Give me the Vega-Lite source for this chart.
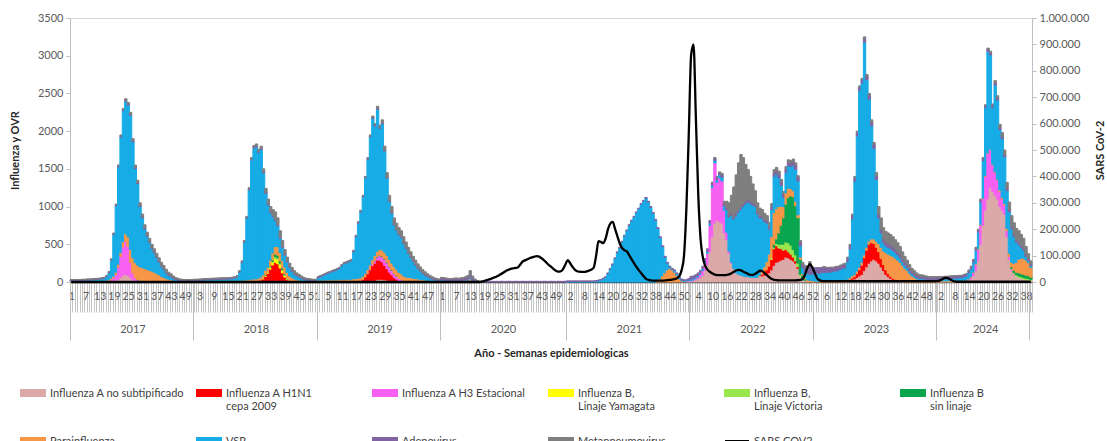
{
"$schema": "https://vega.github.io/schema/vega-lite/v6.json",
"width": 962, "height": 264,
"autosize": {"type": "none"},
"padding": {"left": 70, "top": 18, "right": 75, "bottom": 159},
"background": "white",
"config": {
 "font": "Lato",
 "view": {"stroke": "#d9d9d9"},
 "locale": {"number": {"decimal": ",", "thousands": ".", "grouping": [3], "currency": ["$", ""]}},
 "axis": {"grid": false, "labelFont": "Lato", "labelColor": "#595959", "labelFontSize": 11, "titleFont": "Lato", "titleFontSize": 11, "titleFontWeight": "bold", "titleColor": "#262626"}
},
"datasets": {
 "series": [
  {"key":"a","name":"Influenza A no subtipificado"},
  {"key":"b","name":"Influenza A H1N1 cepa 2009"},
  {"key":"c","name":"Influenza A H3 Estacional"},
  {"key":"d","name":"Influenza B, Linaje Yamagata"},
  {"key":"e","name":"Influenza B, Linaje Victoria"},
  {"key":"f","name":"Influenza B sin linaje"},
  {"key":"g","name":"Parainfluenza"},
  {"key":"h","name":"VSR"},
  {"key":"j","name":"Adenovirus"},
  {"key":"k","name":"Metapneumovirus"}
 ],
 "weeks": [
{"i":0,"a":2,"g":8,"h":8,"j":10,"k":4,"s":0},
{"i":1,"a":2,"g":9,"h":7,"j":11,"k":4,"s":0},
{"i":2,"a":2,"g":8,"h":9,"j":10,"k":5,"s":0},
{"i":3,"a":2,"g":7,"h":8,"j":12,"k":4,"s":0},
{"i":4,"a":3,"g":8,"h":10,"j":10,"k":4,"s":0},
{"i":5,"a":2,"g":9,"h":9,"j":11,"k":5,"s":0},
{"i":6,"a":2,"g":8,"h":11,"j":12,"k":4,"s":0},
{"i":7,"a":3,"g":10,"h":12,"j":11,"k":5,"s":0},
{"i":8,"a":2,"g":9,"h":12,"j":12,"k":5,"s":0},
{"i":9,"a":3,"g":10,"h":14,"j":12,"k":5,"s":0},
{"i":10,"a":3,"g":10,"h":15,"j":12,"k":5,"s":0},
{"i":11,"a":3,"g":11,"h":17,"j":12,"k":6,"s":0},
{"i":12,"a":3,"g":11,"h":20,"j":12,"k":6,"s":0},
{"i":13,"a":3,"g":12,"h":24,"j":12,"k":6,"s":0},
{"i":14,"a":3,"g":12,"h":30,"j":12,"k":6,"s":0},
{"i":15,"a":3,"c":5,"g":12,"h":50,"j":12,"k":5,"s":0},
{"i":16,"a":5,"c":10,"g":15,"h":90,"j":12,"k":6,"s":0},
{"i":17,"a":8,"c":20,"g":20,"h":240,"j":12,"k":8,"s":0},
{"i":18,"a":12,"c":40,"g":25,"h":550,"j":13,"k":10,"s":0},
{"i":19,"a":20,"c":80,"g":30,"h":880,"j":14,"k":10,"s":0},
{"i":20,"a":35,"c":160,"g":40,"h":1290,"j":15,"k":12,"s":0},
{"i":21,"a":60,"c":280,"g":50,"h":1530,"j":15,"k":15,"s":0},
{"i":22,"a":85,"c":380,"g":70,"h":1735,"j":15,"k":15,"s":0},
{"i":23,"a":100,"c":440,"g":100,"h":1755,"j":15,"k":20,"s":0},
{"i":24,"a":90,"c":380,"g":130,"h":1745,"j":15,"k":20,"s":0},
{"i":25,"a":60,"c":200,"g":170,"h":1780,"j":15,"k":25,"s":0},
{"i":26,"a":30,"c":90,"g":200,"h":1540,"j":15,"k":25,"s":0},
{"i":27,"a":15,"c":40,"g":200,"h":1250,"j":15,"k":30,"s":0},
{"i":28,"a":10,"c":20,"f":5,"g":190,"h":1080,"j":15,"k":30,"s":0},
{"i":29,"a":5,"c":10,"f":5,"g":180,"h":800,"j":15,"k":35,"s":0},
{"i":30,"a":5,"c":5,"f":5,"g":175,"h":660,"j":15,"k":35,"s":0},
{"i":31,"a":3,"f":5,"g":170,"h":525,"j":15,"k":40,"s":0},
{"i":32,"a":3,"g":165,"h":437,"j":15,"k":40,"s":0},
{"i":33,"g":155,"h":370,"j":15,"k":40,"s":0},
{"i":34,"g":145,"h":300,"j":15,"k":40,"s":0},
{"i":35,"g":130,"h":255,"j":15,"k":40,"s":0},
{"i":36,"g":115,"h":210,"j":15,"k":40,"s":0},
{"i":37,"g":95,"h":170,"j":15,"k":40,"s":0},
{"i":38,"g":75,"h":130,"j":15,"k":40,"s":0},
{"i":39,"g":60,"h":105,"j":15,"k":40,"s":0},
{"i":40,"g":45,"h":75,"j":15,"k":35,"s":0},
{"i":41,"g":35,"h":50,"j":15,"k":30,"s":0},
{"i":42,"g":30,"h":40,"j":15,"k":25,"s":0},
{"i":43,"g":20,"h":25,"j":15,"k":20,"s":0},
{"i":44,"g":15,"h":18,"j":12,"k":15,"s":0},
{"i":45,"g":12,"h":15,"j":12,"k":10,"s":0},
{"i":46,"g":10,"h":10,"j":12,"k":8,"s":0},
{"i":47,"g":8,"h":9,"j":11,"k":6,"s":0},
{"i":48,"g":8,"h":8,"j":10,"k":5,"s":0},
{"i":49,"g":8,"h":8,"j":10,"k":5,"s":0},
{"i":50,"g":7,"h":8,"j":11,"k":5,"s":0},
{"i":51,"g":8,"h":9,"j":10,"k":5,"s":0},
{"i":52,"a":2,"g":8,"h":10,"j":12,"k":5,"s":0},
{"i":53,"a":2,"g":8,"h":11,"j":12,"k":5,"s":0},
{"i":54,"a":2,"g":9,"h":11,"j":12,"k":5,"s":0},
{"i":55,"a":2,"g":9,"h":12,"j":13,"k":5,"s":0},
{"i":56,"a":2,"g":10,"h":13,"j":13,"k":6,"s":0},
{"i":57,"a":2,"g":10,"h":14,"j":13,"k":5,"s":0},
{"i":58,"a":2,"g":10,"h":15,"j":14,"k":6,"s":0},
{"i":59,"a":2,"g":11,"h":16,"j":14,"k":6,"s":0},
{"i":60,"a":2,"g":12,"h":17,"j":14,"k":6,"s":0},
{"i":61,"a":2,"g":12,"h":18,"j":14,"k":6,"s":0},
{"i":62,"a":2,"g":12,"h":19,"j":15,"k":6,"s":0},
{"i":63,"a":2,"g":13,"h":19,"j":15,"k":6,"s":0},
{"i":64,"a":2,"g":13,"h":20,"j":15,"k":6,"s":0},
{"i":65,"a":2,"g":13,"h":21,"j":15,"k":6,"s":0},
{"i":66,"a":2,"g":13,"h":22,"j":15,"k":6,"s":0},
{"i":67,"a":2,"g":14,"h":23,"j":15,"k":6,"s":0},
{"i":68,"a":2,"g":14,"h":28,"j":15,"k":6,"s":0},
{"i":69,"a":2,"g":15,"h":32,"j":15,"k":6,"s":0},
{"i":70,"a":2,"g":15,"h":47,"j":15,"k":6,"s":0},
{"i":71,"a":2,"g":16,"h":110,"j":15,"k":7,"s":0},
{"i":72,"a":2,"g":18,"h":237,"j":15,"k":8,"s":0},
{"i":73,"a":2,"g":20,"h":503,"j":15,"k":10,"s":0},
{"i":74,"a":4,"g":22,"h":817,"j":15,"k":12,"s":0},
{"i":75,"a":5,"g":25,"h":1190,"j":15,"k":15,"s":0},
{"i":76,"a":7,"g":28,"h":1580,"j":15,"k":20,"s":0},
{"i":77,"a":8,"g":30,"h":1735,"j":15,"k":22,"s":0},
{"i":78,"a":5,"b":5,"g":30,"h":1750,"j":15,"k":25,"s":0},
{"i":79,"a":5,"b":7,"g":35,"h":1670,"j":15,"k":28,"s":0},
{"i":80,"a":5,"b":20,"g":40,"h":1690,"j":15,"k":30,"s":0},
{"i":81,"a":5,"b":35,"d":5,"g":50,"h":1350,"j":15,"k":40,"s":0},
{"i":82,"a":5,"b":70,"d":10,"e":5,"f":5,"g":60,"h":1020,"j":15,"k":50,"s":0},
{"i":83,"a":5,"b":110,"d":10,"g":70,"h":825,"j":15,"k":65,"s":0},
{"i":84,"a":10,"b":160,"d":20,"e":10,"f":10,"g":80,"h":630,"j":15,"k":65,"s":0},
{"i":85,"a":15,"b":210,"d":35,"e":15,"f":20,"g":90,"h":480,"j":15,"k":80,"s":0},
{"i":86,"a":20,"b":240,"d":50,"e":25,"f":35,"g":100,"h":345,"j":15,"k":100,"s":0},
{"i":87,"a":20,"b":220,"d":55,"e":25,"f":35,"g":110,"h":280,"j":15,"k":90,"s":0},
{"i":88,"a":15,"b":170,"d":45,"e":20,"f":30,"g":110,"h":190,"j":15,"k":85,"s":0},
{"i":89,"a":10,"b":110,"d":30,"e":15,"f":20,"g":100,"h":170,"j":15,"k":80,"s":0},
{"i":90,"a":5,"b":60,"d":20,"e":10,"f":12,"g":90,"h":158,"j":15,"k":60,"s":0},
{"i":91,"b":30,"d":10,"f":8,"g":80,"h":137,"j":15,"k":50,"s":0},
{"i":92,"b":15,"g":65,"h":115,"j":15,"k":40,"s":0},
{"i":93,"b":8,"g":50,"h":85,"j":15,"k":35,"s":0},
{"i":94,"g":40,"h":65,"j":15,"k":30,"s":0},
{"i":95,"g":30,"h":50,"j":15,"k":25,"s":0},
{"i":96,"g":25,"h":40,"j":15,"k":20,"s":0},
{"i":97,"g":20,"h":30,"j":15,"k":15,"s":0},
{"i":98,"g":15,"h":20,"j":15,"k":10,"s":0},
{"i":99,"g":12,"h":15,"j":15,"k":8,"s":0},
{"i":100,"g":11,"h":12,"j":15,"k":7,"s":0},
{"i":101,"g":10,"h":10,"j":14,"k":6,"s":0},
{"i":102,"g":9,"h":9,"j":13,"k":5,"s":0},
{"i":103,"g":9,"h":9,"j":13,"k":5,"s":0},
{"i":104,"a":2,"g":20,"h":28,"j":15,"k":5,"s":0},
{"i":105,"a":2,"g":20,"h":43,"j":15,"k":5,"s":0},
{"i":106,"a":2,"g":22,"h":56,"j":15,"k":5,"s":0},
{"i":107,"a":2,"g":22,"h":71,"j":15,"k":5,"s":0},
{"i":108,"a":2,"g":24,"h":84,"j":15,"k":5,"s":0},
{"i":109,"a":2,"g":24,"h":94,"j":15,"k":5,"s":0},
{"i":110,"a":2,"g":25,"h":108,"j":15,"k":5,"s":0},
{"i":111,"a":2,"g":25,"h":118,"j":15,"k":5,"s":0},
{"i":112,"a":2,"g":26,"h":132,"j":15,"k":5,"s":0},
{"i":113,"a":3,"g":27,"h":145,"j":15,"k":5,"s":0},
{"i":114,"a":3,"g":28,"h":178,"j":15,"k":6,"s":0},
{"i":115,"a":3,"g":28,"h":208,"j":15,"k":6,"s":0},
{"i":116,"a":3,"g":29,"h":217,"j":15,"k":6,"s":0},
{"i":117,"a":3,"g":30,"h":231,"j":15,"k":6,"s":0},
{"i":118,"a":3,"b":3,"g":30,"h":243,"j":15,"k":6,"s":0},
{"i":119,"a":3,"b":5,"g":32,"h":358,"j":15,"k":7,"s":0},
{"i":120,"a":4,"b":5,"g":34,"h":555,"j":15,"k":7,"s":0},
{"i":121,"a":5,"b":7,"g":36,"h":730,"j":15,"k":7,"s":0},
{"i":122,"a":5,"b":10,"g":40,"h":872,"j":15,"k":8,"s":0},
{"i":123,"a":5,"b":30,"g":42,"h":1050,"j":15,"k":8,"s":0},
{"i":124,"a":6,"b":60,"g":45,"h":1265,"j":15,"k":9,"s":0},
{"i":125,"a":8,"b":100,"c":5,"g":50,"h":1462,"j":15,"k":10,"s":0},
{"i":126,"a":10,"b":150,"c":10,"g":55,"h":1700,"j":15,"k":10,"s":0},
{"i":127,"a":15,"b":200,"c":20,"g":60,"h":1875,"j":15,"k":15,"s":0},
{"i":128,"a":20,"b":230,"c":30,"f":5,"g":65,"h":1715,"j":15,"k":20,"s":0},
{"i":129,"a":30,"b":260,"c":40,"f":5,"g":70,"h":1885,"j":15,"k":25,"s":0},
{"i":130,"a":35,"b":250,"c":60,"f":8,"g":75,"h":1607,"j":15,"k":30,"s":0},
{"i":131,"a":35,"b":230,"c":70,"f":8,"g":80,"h":1672,"j":15,"k":40,"s":0},
{"i":132,"a":30,"b":190,"c":80,"f":8,"g":85,"h":1342,"j":15,"k":50,"s":0},
{"i":133,"a":25,"b":150,"c":80,"f":8,"g":90,"h":1022,"j":15,"k":60,"s":0},
{"i":134,"a":20,"b":110,"c":70,"f":8,"g":90,"h":767,"j":15,"k":70,"s":0},
{"i":135,"a":15,"b":80,"c":60,"f":6,"g":90,"h":659,"j":15,"k":75,"s":0},
{"i":136,"a":10,"b":50,"c":50,"f":5,"g":88,"h":552,"j":15,"k":80,"s":0},
{"i":137,"a":8,"b":30,"c":40,"f":5,"g":85,"h":517,"j":15,"k":80,"s":0},
{"i":138,"a":5,"b":15,"c":30,"g":80,"h":495,"j":15,"k":80,"s":0},
{"i":139,"a":3,"b":10,"c":20,"g":75,"h":482,"j":15,"k":75,"s":0},
{"i":140,"c":10,"g":70,"h":430,"j":15,"k":75,"s":0},
{"i":141,"g":65,"h":380,"j":15,"k":70,"s":0},
{"i":142,"g":60,"h":320,"j":15,"k":65,"s":0},
{"i":143,"g":55,"h":270,"j":15,"k":60,"s":0},
{"i":144,"g":50,"h":220,"j":15,"k":55,"s":0},
{"i":145,"g":45,"h":180,"j":15,"k":50,"s":0},
{"i":146,"g":40,"h":140,"j":15,"k":45,"s":0},
{"i":147,"g":35,"h":110,"j":15,"k":40,"s":0},
{"i":148,"g":30,"h":85,"j":15,"k":35,"s":0},
{"i":149,"g":25,"h":65,"j":15,"k":30,"s":0},
{"i":150,"g":22,"h":48,"j":15,"k":25,"s":0},
{"i":151,"g":20,"h":35,"j":15,"k":20,"s":0},
{"i":152,"g":16,"h":24,"j":15,"k":15,"s":0},
{"i":153,"g":13,"h":17,"j":15,"k":10,"s":0},
{"i":154,"g":11,"h":12,"j":14,"k":8,"s":0},
{"i":155,"g":10,"h":10,"j":13,"k":7,"s":0},
{"i":156,"g":12,"h":15,"j":25,"k":10,"s":0},
{"i":157,"g":12,"h":12,"j":25,"k":8,"s":0},
{"i":158,"g":10,"h":12,"j":22,"k":8,"s":0},
{"i":159,"g":10,"h":10,"j":20,"k":7,"s":0},
{"i":160,"g":10,"h":10,"j":20,"k":6,"s":0},
{"i":161,"g":10,"h":10,"j":22,"k":8,"s":0},
{"i":162,"g":12,"h":10,"j":23,"k":10,"s":0},
{"i":163,"g":10,"h":8,"j":22,"k":10,"s":0},
{"i":164,"g":10,"h":10,"j":25,"k":10,"s":0},
{"i":165,"g":12,"h":10,"j":25,"k":13,"s":0},
{"i":166,"g":15,"h":10,"j":28,"k":17,"s":0},
{"i":167,"f":5,"g":15,"h":10,"j":30,"k":25,"s":0},
{"i":168,"f":20,"g":20,"h":15,"j":35,"k":60,"s":0},
{"i":169,"g":15,"h":10,"j":30,"k":25,"s":0},
{"i":170,"g":8,"h":5,"j":20,"k":7,"s":0},
{"i":171,"g":3,"h":2,"j":12,"k":3,"s":0},
{"i":172,"g":2,"j":8,"s":0},
{"i":173,"j":8,"s":2000},
{"i":174,"j":7,"s":4000},
{"i":175,"j":9,"s":7000},
{"i":176,"j":8,"s":10000},
{"i":177,"j":10,"s":13000},
{"i":178,"j":8,"s":17000},
{"i":179,"j":9,"s":20000},
{"i":180,"j":8,"s":25000},
{"i":181,"j":10,"s":30000},
{"i":182,"j":9,"s":36000},
{"i":183,"j":8,"s":42000},
{"i":184,"j":10,"s":46000},
{"i":185,"j":9,"s":50000},
{"i":186,"j":8,"s":52000},
{"i":187,"j":10,"s":53000},
{"i":188,"j":9,"s":55000},
{"i":189,"j":8,"s":65000},
{"i":190,"j":10,"s":77000},
{"i":191,"j":9,"s":82000},
{"i":192,"j":8,"s":86000},
{"i":193,"j":10,"s":90000},
{"i":194,"j":9,"s":93000},
{"i":195,"j":8,"s":96000},
{"i":196,"j":10,"s":98000},
{"i":197,"j":9,"s":96000},
{"i":198,"j":8,"s":90000},
{"i":199,"j":10,"s":83000},
{"i":200,"j":9,"s":74000},
{"i":201,"j":8,"s":65000},
{"i":202,"j":10,"s":58000},
{"i":203,"j":9,"s":50000},
{"i":204,"j":8,"s":43000},
{"i":205,"j":10,"s":39000},
{"i":206,"j":9,"s":40000},
{"i":207,"j":8,"s":48000},
{"i":208,"j":10,"s":65000},
{"i":209,"h":5,"j":10,"s":83000},
{"i":210,"h":5,"j":10,"s":72000},
{"i":211,"h":5,"j":10,"s":58000},
{"i":212,"h":5,"j":10,"s":47000},
{"i":213,"h":5,"j":10,"s":41000},
{"i":214,"h":5,"j":10,"s":39000},
{"i":215,"h":5,"j":10,"s":38000},
{"i":216,"h":5,"j":10,"s":38000},
{"i":217,"h":5,"j":10,"s":40000},
{"i":218,"h":5,"j":10,"s":43000},
{"i":219,"h":5,"j":10,"s":47000},
{"i":220,"h":5,"j":10,"s":55000},
{"i":221,"h":10,"j":10,"s":100000},
{"i":222,"h":15,"j":10,"s":155000},
{"i":223,"h":25,"j":10,"s":152000},
{"i":224,"h":40,"j":10,"s":147000},
{"i":225,"h":60,"j":10,"s":165000},
{"i":226,"h":110,"j":10,"s":200000},
{"i":227,"h":170,"j":10,"s":222000},
{"i":228,"h":230,"j":10,"s":228000},
{"i":229,"h":310,"j":10,"s":200000},
{"i":230,"h":390,"j":10,"s":172000},
{"i":231,"h":450,"j":10,"s":145000},
{"i":232,"h":530,"j":10,"s":128000},
{"i":233,"h":610,"j":10,"s":120000},
{"i":234,"h":680,"j":10,"s":115000},
{"i":235,"h":750,"j":10,"s":100000},
{"i":236,"h":810,"j":10,"s":85000},
{"i":237,"h":860,"j":10,"s":71000},
{"i":238,"h":920,"j":10,"s":57000},
{"i":239,"h":970,"j":10,"s":44000},
{"i":240,"h":1030,"j":10,"s":33000},
{"i":241,"h":1070,"j":10,"s":22000},
{"i":242,"h":1110,"j":10,"s":12000},
{"i":243,"h":1060,"j":10,"s":8000},
{"i":244,"h":990,"j":10,"s":6000},
{"i":245,"h":910,"j":10,"s":5000},
{"i":246,"h":820,"j":10,"s":5000},
{"i":247,"g":20,"h":690,"j":10,"s":5000},
{"i":248,"g":40,"h":550,"j":10,"s":5000},
{"i":249,"g":80,"h":390,"j":10,"s":5000},
{"i":250,"g":120,"h":210,"j":10,"s":6000},
{"i":251,"g":160,"h":90,"j":10,"s":7000},
{"i":252,"g":180,"h":20,"j":10,"s":8000},
{"i":253,"g":160,"h":10,"j":10,"s":9000},
{"i":254,"g":130,"h":20,"j":10,"s":11000},
{"i":255,"g":90,"h":20,"j":10,"s":14000},
{"i":256,"g":40,"h":20,"j":10,"s":22000},
{"i":257,"g":15,"h":10,"j":15,"s":45000},
{"i":258,"g":5,"h":10,"j":15,"s":100000},
{"i":259,"a":5,"h":10,"j":15,"s":280000},
{"i":260,"a":10,"c":5,"h":10,"j":20,"s":560000},
{"i":261,"a":10,"c":5,"h":20,"j":40,"s":860000},
{"i":262,"a":15,"c":10,"h":20,"j":35,"s":900000},
{"i":263,"a":25,"c":15,"h":20,"j":35,"s":620000},
{"i":264,"a":40,"c":25,"h":20,"j":35,"s":330000},
{"i":265,"a":60,"c":40,"h":20,"j":35,"s":160000},
{"i":266,"a":90,"c":60,"h":25,"j":35,"s":90000},
{"i":267,"a":150,"c":100,"h":25,"j":35,"s":60000},
{"i":268,"a":230,"c":150,"h":25,"j":35,"s":45000},
{"i":269,"a":400,"c":350,"h":30,"j":35,"s":38000},
{"i":270,"a":600,"c":650,"h":30,"j":35,"k":10,"s":32000},
{"i":271,"a":780,"c":800,"h":30,"j":30,"k":10,"s":28000},
{"i":272,"a":820,"c":500,"h":40,"j":30,"k":10,"s":26000},
{"i":273,"a":800,"c":580,"h":40,"j":30,"k":10,"s":26000},
{"i":274,"a":780,"c":560,"h":50,"j":30,"k":20,"s":26000},
{"i":275,"a":650,"c":300,"h":60,"j":30,"k":30,"s":26000},
{"i":276,"a":560,"c":100,"h":300,"j":30,"k":80,"s":27000},
{"i":277,"a":380,"c":30,"h":450,"j":30,"k":160,"s":29000},
{"i":278,"a":250,"c":10,"h":620,"j":30,"k":240,"s":33000},
{"i":279,"a":180,"h":650,"j":30,"k":400,"s":39000},
{"i":280,"a":120,"h":750,"j":30,"k":520,"s":44000},
{"i":281,"a":100,"h":820,"j":30,"k":630,"s":46000},
{"i":282,"a":90,"h":870,"j":30,"k":700,"s":44000},
{"i":283,"a":80,"h":920,"j":30,"k":620,"s":39000},
{"i":284,"a":70,"h":960,"j":30,"k":500,"s":35000},
{"i":285,"a":70,"h":990,"j":30,"k":400,"s":30000},
{"i":286,"a":60,"h":980,"j":30,"k":330,"s":27000},
{"i":287,"a":60,"h":960,"j":30,"k":250,"s":27000},
{"i":288,"a":60,"h":940,"j":30,"k":180,"s":31000},
{"i":289,"a":60,"h":840,"j":30,"k":120,"s":37000},
{"i":290,"a":70,"g":20,"h":760,"j":30,"k":100,"s":43000},
{"i":291,"a":80,"b":20,"g":40,"h":700,"j":30,"k":90,"s":41000},
{"i":292,"a":90,"b":40,"g":70,"h":600,"j":30,"k":80,"s":33000},
{"i":293,"a":100,"b":60,"g":110,"h":510,"j":30,"k":70,"s":25000},
{"i":294,"a":120,"b":90,"g":160,"h":330,"j":30,"k":60,"s":17000},
{"i":295,"a":160,"b":140,"d":10,"e":10,"g":280,"h":360,"j":40,"k":40,"s":11000},
{"i":296,"a":220,"b":220,"e":20,"f":40,"g":420,"h":480,"j":50,"k":40,"s":8000},
{"i":297,"a":260,"b":220,"e":30,"f":60,"g":400,"h":460,"j":50,"k":40,"s":7000},
{"i":298,"a":270,"b":180,"e":50,"f":150,"g":350,"h":380,"j":50,"k":40,"s":6000},
{"i":299,"a":290,"b":150,"e":60,"f":250,"g":250,"h":280,"j":50,"k":30,"s":6000},
{"i":300,"a":300,"b":120,"e":80,"f":350,"g":150,"h":120,"j":50,"k":30,"s":6000},
{"i":301,"a":330,"b":100,"e":100,"f":500,"g":150,"h":270,"j":50,"k":30,"s":6000},
{"i":302,"a":320,"b":80,"e":120,"f":600,"g":120,"h":300,"j":50,"k":30,"s":6000},
{"i":303,"a":300,"b":70,"e":120,"f":650,"g":100,"h":290,"j":50,"k":30,"s":6000},
{"i":304,"a":280,"b":50,"e":100,"f":700,"g":80,"h":330,"j":60,"k":30,"s":6000},
{"i":305,"a":250,"b":30,"e":80,"f":650,"g":60,"h":420,"j":60,"k":30,"s":6000},
{"i":306,"a":180,"b":20,"e":50,"f":600,"g":40,"h":450,"j":50,"k":20,"s":7000},
{"i":307,"a":80,"e":20,"f":200,"g":30,"h":150,"j":50,"k":20,"s":8000},
{"i":308,"a":30,"f":60,"g":20,"h":80,"j":50,"k":20,"s":12000},
{"i":309,"a":20,"f":20,"g":20,"h":80,"j":60,"k":20,"s":30000},
{"i":310,"a":10,"g":20,"h":80,"j":70,"k":20,"s":55000},
{"i":311,"g":20,"h":80,"j":150,"k":20,"s":68000},
{"i":312,"g":20,"h":80,"j":80,"k":20,"s":55000},
{"i":313,"g":10,"h":110,"j":70,"s":35000},
{"i":314,"g":10,"h":110,"j":70,"s":15000},
{"i":315,"g":10,"h":100,"j":80,"s":7000},
{"i":316,"g":10,"h":110,"j":70,"k":5,"s":4000},
{"i":317,"g":10,"h":120,"j":70,"k":5,"s":3000},
{"i":318,"g":10,"h":115,"j":65,"k":5,"s":3000},
{"i":319,"g":10,"h":120,"j":60,"k":5,"s":3000},
{"i":320,"g":12,"h":120,"j":60,"k":5,"s":3000},
{"i":321,"g":12,"h":125,"j":55,"k":5,"s":3000},
{"i":322,"g":15,"h":130,"j":55,"k":8,"s":3000},
{"i":323,"g":15,"h":135,"j":50,"k":10,"s":3000},
{"i":324,"g":15,"h":150,"j":50,"k":10,"s":3000},
{"i":325,"g":18,"h":160,"j":50,"k":12,"s":3000},
{"i":326,"a":5,"g":20,"h":160,"j":50,"k":15,"s":3000},
{"i":327,"a":10,"b":5,"g":20,"h":230,"j":50,"k":15,"s":3000},
{"i":328,"a":20,"b":10,"g":25,"h":380,"j":50,"k":15,"s":3000},
{"i":329,"a":30,"b":20,"g":30,"h":755,"j":50,"k":15,"s":3000},
{"i":330,"a":40,"b":30,"g":30,"h":1235,"j":50,"k":15,"s":3000},
{"i":331,"a":60,"b":50,"g":35,"h":1790,"j":50,"k":15,"s":3000},
{"i":332,"a":80,"b":80,"g":35,"h":2340,"j":50,"k":15,"s":3000},
{"i":333,"a":100,"b":120,"g":40,"h":2375,"j":50,"k":15,"s":3000},
{"i":334,"a":150,"b":170,"g":40,"h":2820,"j":50,"k":20,"s":3000},
{"i":335,"a":200,"b":220,"g":40,"h":2220,"j":50,"k":20,"s":3000},
{"i":336,"a":250,"b":250,"g":45,"h":1880,"j":50,"k":25,"s":3000},
{"i":337,"a":280,"b":240,"g":50,"h":1500,"j":50,"k":30,"s":3000},
{"i":338,"a":300,"b":210,"g":60,"h":1200,"j":50,"k":30,"s":3000},
{"i":339,"a":280,"b":180,"g":80,"h":820,"j":50,"k":40,"s":3000},
{"i":340,"a":250,"b":150,"g":110,"h":340,"j":50,"k":100,"s":3000},
{"i":341,"a":200,"b":110,"g":150,"h":190,"j":50,"k":150,"s":3000},
{"i":342,"a":150,"b":80,"g":180,"h":110,"j":50,"k":150,"s":3000},
{"i":343,"a":100,"b":60,"g":230,"h":90,"j":50,"k":140,"s":3000},
{"i":344,"a":70,"b":40,"g":260,"h":90,"j":50,"k":140,"s":3000},
{"i":345,"a":50,"b":25,"g":280,"h":90,"j":50,"k":135,"s":3000},
{"i":346,"a":35,"b":15,"g":290,"h":80,"j":50,"k":130,"s":3000},
{"i":347,"a":25,"b":10,"g":280,"h":80,"j":45,"k":120,"s":3000},
{"i":348,"a":15,"b":5,"g":270,"h":70,"j":45,"k":115,"s":3000},
{"i":349,"a":10,"g":250,"h":60,"j":45,"k":105,"s":3000},
{"i":350,"a":5,"g":215,"h":50,"j":40,"k":90,"s":3000},
{"i":351,"g":180,"h":45,"j":40,"k":75,"s":3000},
{"i":352,"g":150,"h":40,"j":40,"k":60,"s":3000},
{"i":353,"g":110,"h":35,"j":40,"k":45,"s":3000},
{"i":354,"g":80,"h":30,"j":35,"k":35,"s":3000},
{"i":355,"g":60,"h":25,"j":35,"k":30,"s":3000},
{"i":356,"g":40,"h":20,"j":35,"k":25,"s":3000},
{"i":357,"g":30,"h":20,"j":30,"k":20,"s":3000},
{"i":358,"g":25,"h":20,"j":30,"k":20,"s":3000},
{"i":359,"g":20,"h":20,"j":30,"k":20,"s":3000},
{"i":360,"g":15,"h":20,"j":30,"k":15,"s":3000},
{"i":361,"g":12,"h":20,"j":30,"k":10,"s":3000},
{"i":362,"g":12,"h":20,"j":30,"k":10,"s":3000},
{"i":363,"g":12,"h":20,"j":30,"k":10,"s":3000},
{"i":364,"g":12,"h":20,"j":30,"k":10,"s":3000},
{"i":365,"a":5,"g":10,"h":20,"j":30,"k":5,"s":4000},
{"i":366,"a":5,"g":10,"h":22,"j":30,"k":5,"s":7000},
{"i":367,"a":5,"g":10,"h":24,"j":30,"k":5,"s":12000},
{"i":368,"a":5,"g":10,"h":26,"j":30,"k":5,"s":16000},
{"i":369,"a":5,"g":10,"h":28,"j":30,"k":5,"s":15000},
{"i":370,"a":5,"g":10,"h":30,"j":30,"k":5,"s":10000},
{"i":371,"a":5,"g":10,"h":32,"j":30,"k":5,"s":5000},
{"i":372,"a":5,"g":10,"h":34,"j":30,"k":5,"s":2000},
{"i":373,"a":5,"g":10,"h":36,"j":30,"k":5,"s":1000},
{"i":374,"a":5,"g":10,"h":38,"j":30,"k":5,"s":1000},
{"i":375,"a":5,"g":10,"h":40,"j":30,"k":5,"s":1000},
{"i":376,"a":8,"c":3,"g":10,"h":45,"j":30,"k":5,"s":1000},
{"i":377,"a":10,"c":5,"g":10,"h":50,"j":30,"k":5,"s":1000},
{"i":378,"a":20,"c":10,"g":10,"h":80,"j":30,"k":10,"s":1000},
{"i":379,"a":40,"c":20,"g":10,"h":100,"j":30,"k":10,"s":1000},
{"i":380,"a":80,"c":40,"g":10,"h":130,"j":30,"k":10,"s":1000},
{"i":381,"a":150,"c":80,"g":10,"h":180,"j":30,"k":10,"s":1000},
{"i":382,"a":280,"c":150,"g":10,"h":220,"j":30,"k":10,"s":1000},
{"i":383,"a":500,"c":250,"g":10,"h":300,"j":30,"k":10,"s":1000},
{"i":384,"a":750,"c":350,"g":10,"h":500,"j":30,"k":10,"s":1000},
{"i":385,"a":950,"c":450,"g":10,"h":900,"j":30,"k":10,"s":1000},
{"i":386,"a":1100,"c":600,"g":10,"h":1350,"j":30,"k":10,"s":1000},
{"i":387,"a":1250,"c":500,"g":10,"h":1250,"j":30,"k":20,"s":1000},
{"i":388,"a":1200,"c":350,"g":10,"h":750,"j":30,"k":20,"s":1000},
{"i":389,"a":1150,"c":300,"g":10,"h":1150,"j":30,"k":30,"s":1000},
{"i":390,"a":1100,"c":250,"g":10,"h":1050,"j":30,"k":30,"s":1000},
{"i":391,"a":1000,"c":200,"g":20,"h":800,"j":30,"k":40,"s":1000},
{"i":392,"a":950,"c":150,"g":20,"h":780,"j":30,"k":50,"s":1000},
{"i":393,"a":900,"c":120,"g":20,"h":620,"j":30,"k":60,"s":1000},
{"i":394,"a":600,"c":80,"g":30,"h":500,"j":30,"k":80,"s":1000},
{"i":395,"a":300,"c":40,"g":40,"h":550,"j":30,"k":100,"s":1000},
{"i":396,"a":150,"c":20,"e":10,"f":20,"g":60,"h":450,"j":30,"k":140,"s":1000},
{"i":397,"a":100,"c":10,"e":15,"f":30,"g":90,"h":360,"j":30,"k":150,"s":1000},
{"i":398,"a":80,"e":15,"f":35,"g":130,"h":270,"j":30,"k":150,"s":1000},
{"i":399,"a":60,"e":20,"f":40,"g":180,"h":200,"j":30,"k":150,"s":1000},
{"i":400,"a":50,"e":20,"f":40,"g":200,"h":150,"j":30,"k":140,"s":1000},
{"i":401,"a":40,"e":20,"f":40,"g":210,"h":110,"j":30,"k":130,"s":1000},
{"i":402,"a":30,"e":20,"f":40,"g":200,"h":50,"j":30,"k":100,"s":1000},
{"i":403,"a":25,"e":20,"f":40,"g":170,"h":30,"j":30,"k":60,"s":1000},
{"i":404,"a":20,"e":15,"f":30,"g":130,"h":20,"j":25,"k":40,"s":1000}
 ]
},
"layer": [
 {
  "data": {"name": "weeks"},
  "transform": [
   {"fold": ["a","b","c","d","e","f","g","h","j","k"], "as": ["key","value"]},
   {"filter": "isValid(datum.value) && datum.value > 0"},
   {"lookup": "key", "from": {"data": {"name": "series"}, "key": "key", "fields": ["name"]}}
  ],
  "mark": {"type": "bar", "strokeWidth": 1},
  "encoding": {
   "x": {"field": "i", "type": "ordinal", "scale": {"type": "band", "paddingInner": 0, "paddingOuter": 0},
    "axis": {"orient": "bottom", "title": null, "tickBand": "extent", "tickSize": 30, "tickColor": "#c4c4c4", "tickWidth": 1,
     "domainColor": "#404040", "domainWidth": 1.5, "labelAngle": 0, "labelOverlap": false, "labelBound": false, "labelFlush": false,
     "labelPadding": -21, "labelFontSize": 10.5,
     "labelExpr": "datum.value % 6 == 0 ? '' + (datum.value + 1 - (datum.value >= 365 ? 365 : datum.value >= 313 ? 313 : datum.value >= 261 ? 261 : datum.value >= 209 ? 209 : datum.value >= 156 ? 156 : datum.value >= 104 ? 104 : datum.value >= 52 ? 52 : 0)) : ''"}},
   "y": {"field": "value", "type": "quantitative", "stack": "zero", "scale": {"domain": [0, 3500]},
    "axis": {"orient": "left", "title": "Influenza y OVR", "values": [0,500,1000,1500,2000,2500,3000,3500], "format": "d",
     "tickSize": 4, "tickColor": "#bfbfbf", "domainColor": "#bfbfbf", "labelPadding": 3,
     "titleX": -55, "titleY": 132, "titleAngle": 270, "titleBaseline": "middle", "titleAlign": "center"}},
   "color": {"field": "name", "type": "nominal",
    "scale": {"domain": ["Influenza A no subtipificado","Influenza A H1N1 cepa 2009","Influenza A H3 Estacional","Influenza B, Linaje Yamagata","Influenza B, Linaje Victoria","Influenza B sin linaje","Parainfluenza","VSR","Adenovirus","Metapneumovirus","SARS COV2"],
     "range": ["#dba9a8","#ff0000","#f760f2","#ffff00","#99e64d","#0aa54f","#f79646","#17ace6","#8064a2","#7f7f7f","#000000"]},
    "legend": {"orient": "none", "legendX": -50, "legendY": 362, "direction": "horizontal", "columns": 6, "title": null,
     "gridAlign": "all", "columnPadding": 8, "rowPadding": 16,
     "symbolType": "M-1,-0.25H1V0.25H-1Z", "symbolSize": 576, "symbolStrokeWidth": 0,
     "labelFont": "Lato", "labelFontSize": 11, "labelColor": "#404040", "labelLimit": 300, "labelOffset": 4, "labelBaseline": "top",
     "labelExpr": "datum.label == 'Influenza A H1N1 cepa 2009' ? ['Influenza A H1N1', 'cepa 2009'] : datum.label == 'Influenza B, Linaje Yamagata' ? ['Influenza B,', 'Linaje Yamagata'] : datum.label == 'Influenza B, Linaje Victoria' ? ['Influenza B,', 'Linaje Victoria'] : datum.label == 'Influenza B sin linaje' ? ['Influenza B', 'sin linaje'] : [datum.label, ' ']",
     "encode": {
      "symbols": {"update": {
       "shape": {"signal": "datum.value === 'SARS COV2' ? 'M-1,0H1' : 'M-1,-0.25H1V0.25H-1Z'"},
       "fill": {"signal": "datum.value === 'SARS COV2' ? 'transparent' : scale('color', datum.value)"},
       "stroke": {"signal": "datum.value === 'SARS COV2' ? '#000000' : 'transparent'"},
       "strokeWidth": {"value": 2},
       "opacity": {"value": 1}
      }},
      "labels": {"update": {"dy": {"value": -5}}}
     }}},
   "stroke": {"field": "name", "type": "nominal", "legend": null,
    "scale": {"domain": ["Influenza A no subtipificado","Influenza A H1N1 cepa 2009","Influenza A H3 Estacional","Influenza B, Linaje Yamagata","Influenza B, Linaje Victoria","Influenza B sin linaje","Parainfluenza","VSR","Adenovirus","Metapneumovirus","SARS COV2"],
     "range": ["#dba9a8","#ff0000","#f760f2","#ffff00","#99e64d","#0aa54f","#f79646","#17ace6","#8064a2","#7f7f7f","#000000"]}},
   "order": {"field": "key", "sort": "ascending"}
  }
 },
 {
  "data": {"name": "weeks"},
  "mark": {"type": "line", "color": "#000000", "strokeWidth": 2.3, "interpolate": "monotone"},
  "encoding": {
   "x": {"field": "i", "type": "ordinal", "scale": {"type": "band", "paddingInner": 0, "paddingOuter": 0},
    "axis": {"orient": "bottom", "title": null, "values": [26,78,130,182,235,287,339,385], "bandPosition": 0,
     "ticks": false, "tickSize": 0, "domain": false, "labelPadding": 41, "labelAngle": 0, "labelFontSize": 11, "labelOverlap": false,
     "labelExpr": "datum.value == 26 ? '2017' : datum.value == 78 ? '2018' : datum.value == 130 ? '2019' : datum.value == 182 ? '2020' : datum.value == 235 ? '2021' : datum.value == 287 ? '2022' : datum.value == 339 ? '2023' : '2024'"}},
   "y": {"field": "s", "type": "quantitative", "scale": {"domain": [0, 1000000]},
    "axis": {"orient": "right", "title": "SARS CoV-2", "values": [0,100000,200000,300000,400000,500000,600000,700000,800000,900000,1000000], "format": ",d",
     "tickSize": 4, "tickColor": "#bfbfbf", "domainColor": "#bfbfbf", "labelPadding": 3,
     "titleX": 68, "titleY": 132, "titleAngle": 270, "titleBaseline": "middle", "titleAlign": "center"}}
  }
 },
 {
  "data": {"name": "weeks"},
  "mark": {"type": "rule", "opacity": 0},
  "encoding": {
   "x": {"field": "i", "type": "ordinal", "scale": {"type": "band", "paddingInner": 0, "paddingOuter": 0},
    "axis": {"orient": "bottom", "title": "Año - Semanas epidemiologicas", "values": [0,52,104,156,209,261,313,365,404], "bandPosition": 0,
     "tickSize": 58, "tickColor": "#bfbfbf", "tickWidth": 1, "labels": false, "domain": false,
     "titleY": 71, "titleBaseline": "middle"}}
  }
 }
],
"resolve": {"scale": {"y": "independent"}, "axis": {"x": "independent", "y": "independent"}}
}
